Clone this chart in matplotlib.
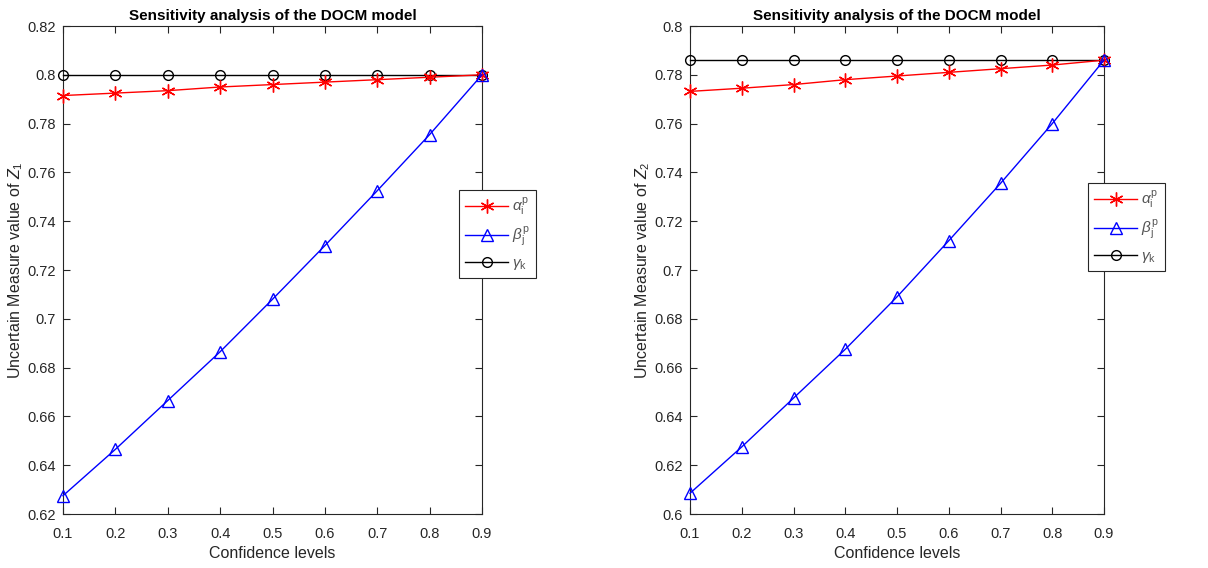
import numpy as np
import matplotlib
matplotlib.use("Agg")
import matplotlib.pyplot as plt

plt.rcParams['font.family'] = ['Liberation Sans', 'DejaVu Sans']
plt.rcParams['mathtext.fontset'] = 'custom'
plt.rcParams['mathtext.rm'] = 'Liberation Sans'
plt.rcParams['mathtext.it'] = 'Liberation Sans:italic'

conf = [0.1, 0.2, 0.3, 0.4, 0.5, 0.6, 0.7, 0.8, 0.9]

# Z1
alpha_z1 = [0.7915, 0.7925, 0.7935, 0.795, 0.796, 0.797, 0.798, 0.799, 0.8]
beta_z1 = [0.6275, 0.6465, 0.6665, 0.6865, 0.708, 0.730, 0.7525, 0.7755, 0.8]
gamma_z1 = [0.8] * 9

# Z2
alpha_z2 = [0.7732, 0.7745, 0.776, 0.778, 0.7795, 0.781, 0.7825, 0.784, 0.786]
beta_z2 = [0.6085, 0.6275, 0.6475, 0.6675, 0.689, 0.712, 0.7355, 0.760, 0.786]
gamma_z2 = [0.786] * 9

labels = [r'$\alpha_\mathrm{i}^\mathrm{p}$', r'$\beta_\mathrm{j}^\mathrm{p}$', r'$\gamma_\mathrm{k}$']
ax_col = '#262626'
asterisk = (6, 2, 0)

fig = plt.figure(figsize=(12.08, 5.68), dpi=100)
ax1 = fig.add_axes([63 / 1208, 1 - 514 / 568, 419 / 1208, 488 / 568])
ax2 = fig.add_axes([690 / 1208, 1 - 514 / 568, 414 / 1208, 488 / 568])

panels = [
    (ax1, alpha_z1, beta_z1, gamma_z1, (0.62, 0.82), r'Uncertain Measure value of $Z_1$', (459, 190)),
    (ax2, alpha_z2, beta_z2, gamma_z2, (0.6, 0.8), r'Uncertain Measure value of $Z_2$', (1088, 183)),
]

for ax, a, b, g, ylim, ylab, lb in panels:
    ax.plot(conf, g, color='black', marker='o', markersize=7, markerfacecolor='none',
            markeredgewidth=1.0, linewidth=1.0, label=labels[2], clip_on=False, zorder=3)
    ax.plot(conf, a, color='red', marker=asterisk, markersize=10, markeredgewidth=1.0,
            linewidth=1.0, label=labels[0], clip_on=False, zorder=4)
    ax.plot(conf, b, color='blue', marker='^', markersize=8, markerfacecolor='none',
            markeredgewidth=1.0, linewidth=1.0, label=labels[1], clip_on=False, zorder=5)
    ax.set_xlim(0.1, 0.9)
    ax.set_ylim(*ylim)
    ax.set_xticks(conf)
    ax.set_xticklabels([('%g' % v) for v in conf])
    yt = np.round(np.arange(ylim[0], ylim[1] + 1e-9, 0.02), 2)
    ax.set_yticks(yt)
    ax.set_yticklabels([('%g' % v) for v in yt])
    ax.tick_params(direction='in', top=True, right=True, labelsize=10.5,
                   colors=ax_col, length=5, width=0.8)
    ax.tick_params(axis='x', pad=9)
    ax.tick_params(axis='y', pad=5)
    for s in ax.spines.values():
        s.set_color(ax_col)
        s.set_linewidth(0.8)
    ax.set_title('Sensitivity analysis of the DOCM model', fontsize=11, fontweight='bold',
                 color='black', pad=4)
    ax.set_xlabel('Confidence levels', fontsize=11.5, color=ax_col, labelpad=4)
    ax.set_ylabel(ylab, fontsize=11.5, color=ax_col, labelpad=2)
    h, l = ax.get_legend_handles_labels()
    order = [1, 2, 0]
    leg = ax.legend([h[i] for i in order], [l[i] for i in order], loc='upper left',
                    bbox_to_anchor=(lb[0] / 1208, 1 - lb[1] / 568),
                    bbox_transform=fig.transFigure,
                    fancybox=False, framealpha=1, edgecolor=ax_col, fontsize=11,
                    handlelength=2.8, borderpad=0.4, labelspacing=0.45, borderaxespad=0,
                    handletextpad=0.3)
    leg.get_frame().set_linewidth(0.8)
    for t in leg.get_texts():
        t.set_color('#555555')

fig.savefig('out.png', dpi=100)
